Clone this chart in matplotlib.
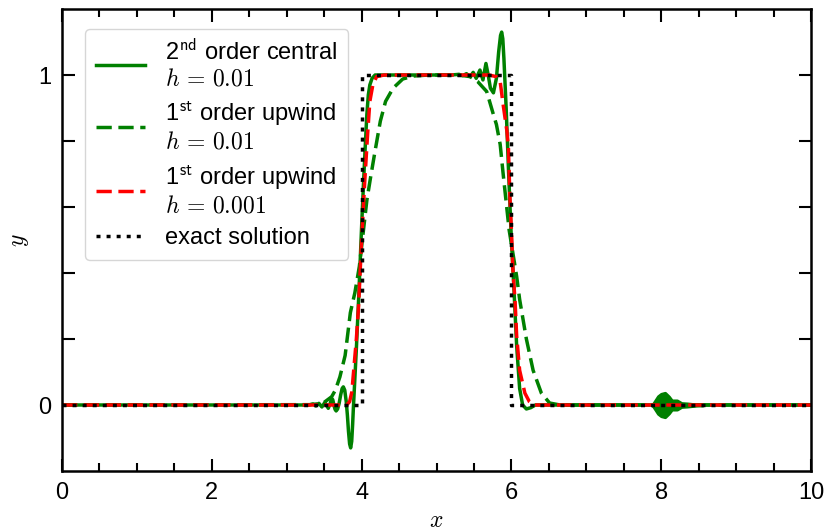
import matplotlib
matplotlib.use("Agg")
import matplotlib.pyplot as plt
from matplotlib.ticker import MultipleLocator

plt.rcParams["font.family"] = ["Liberation Sans", "DejaVu Sans"]
plt.rcParams["mathtext.fontset"] = "cm"
plt.rcParams["font.size"] = 17

# exact solution: unit pulse sitting on [4, 6]
exact_x = [0, 4, 4, 6, 6, 10]
exact_y = [0, 0, 1, 1, 0, 0]

# 2nd order central, h = 0.01 (dispersive wiggles trail each front)
central_x = [0.0, 3.3, 3.35, 3.39, 3.43, 3.47, 3.51, 3.555, 3.58, 3.6, 3.615, 3.63,
             3.645, 3.66, 3.68, 3.70, 3.72, 3.74, 3.756, 3.775, 3.795, 3.81, 3.825,
             3.84, 3.854, 3.868, 3.88, 3.89, 3.91, 3.93, 3.96, 3.98, 4.0, 4.025,
             4.05, 4.07, 4.09, 4.11, 4.14, 4.18, 5.2, 5.3, 5.35, 5.4, 5.45, 5.49,
             5.53, 5.58, 5.62, 5.66, 5.69, 5.72, 5.76, 5.8, 5.83, 5.855, 5.87,
             5.885, 5.9, 5.93, 5.96, 6.0, 6.03, 6.07, 6.11, 6.15, 6.2, 6.26, 6.32,
             6.4, 10.0]
central_y = [0.0, 0.0, 0.003, -0.003, 0.005, -0.006, 0.008, -0.01, 0.004, 0.02, 0.016,
             0.0, -0.013, -0.018, -0.012, 0.005, 0.03, 0.05, 0.055, 0.045, 0.01, -0.03,
             -0.08, -0.118, -0.13, -0.11, -0.06, -0.01, 0.08, 0.17, 0.32, 0.43, 0.54,
             0.67, 0.79, 0.88, 0.94, 0.97, 0.99, 1.0, 1.0, 1.002, 0.998, 1.004, 0.995,
             1.008, 0.99, 1.015, 0.985, 1.035, 1.0, 0.96, 0.946, 0.99, 1.07, 1.12,
             1.13, 1.11, 1.05, 0.9, 0.72, 0.5, 0.37, 0.18, 0.05, 0.0, -0.012, -0.008,
             0.0, 0.0, 0.0]

# grid-scale wave packet left behind near x = 8 (envelope of the wiggle)
packet_x = [7.88, 7.9, 7.96, 8.0, 8.05, 8.1, 8.14, 8.21, 8.27, 8.34, 8.47, 8.56]
packet_amp = [0.0, 0.005, 0.026, 0.033, 0.036, 0.025, 0.013, 0.013, 0.005, 0.004, 0.001, 0.0]

# 1st order upwind, h = 0.01
upwind_x = [0.0, 3.3, 3.4, 3.5, 3.6, 3.65, 3.71, 3.78, 3.85, 3.91, 3.97, 4.02, 4.07,
            4.12, 4.18, 4.25, 4.32, 4.42, 4.55, 4.7, 4.9, 5.3, 5.45, 5.55, 5.67,
            5.76, 5.8, 5.85, 5.89, 5.97, 6.02, 6.07, 6.11, 6.2, 6.29, 6.4, 6.51,
            6.65, 10.0]
upwind_y = [0.0, 0.001, 0.003, 0.008, 0.025, 0.045, 0.085, 0.15, 0.28, 0.34, 0.42,
            0.52, 0.62, 0.69, 0.77, 0.86, 0.92, 0.96, 0.988, 0.997, 1.0, 1.0, 0.995,
            0.98, 0.95, 0.88, 0.85, 0.79, 0.7, 0.53, 0.46, 0.39, 0.32, 0.2, 0.105,
            0.036, 0.006, 0.0, 0.0]

# 1st order upwind, h = 0.001
fine_x = [0.0, 3.8, 3.84, 3.87, 3.9, 3.93, 3.96, 4.0, 4.04, 4.08, 4.11, 4.15, 4.2,
          4.3, 5.7, 5.8, 5.85, 5.89, 5.94, 5.96, 5.98, 6.0, 6.02, 6.05, 6.07, 6.11,
          6.18, 6.24, 6.3, 10.0]
fine_y = [0.0, 0.0, 0.01, 0.04, 0.12, 0.2, 0.3, 0.5, 0.67, 0.82, 0.92, 0.97, 0.995,
          1.0, 1.0, 0.995, 0.98, 0.91, 0.83, 0.78, 0.63, 0.53, 0.41, 0.31, 0.21,
          0.105, 0.036, 0.01, 0.0, 0.0]

x_major_ticks = [0, 2, 4, 6, 8, 10]
y_ticks = [0, 0.2, 0.4, 0.6, 0.8, 1.0]
y_tick_labels = ["0", "", "", "", "", "1"]

fig = plt.figure(figsize=(8.25, 5.31), dpi=100)
ax = fig.add_axes([62 / 825, 60 / 531, 749 / 825, 462 / 531])

lw = 2.5
ax.plot(central_x, central_y, color="green", lw=lw,
        label="2$^{\\mathsf{nd}}$ order central\n$h\\,=\\,0.01$")
ax.fill_between(packet_x, [-a for a in packet_amp], packet_amp,
                color="green", lw=lw, edgecolor="green")
ax.plot(upwind_x, upwind_y, color="green", lw=lw, dashes=(4.4, 1.9),
        label="1$^{\\mathsf{st}}$ order upwind\n$h\\,=\\,0.01$")
ax.plot(fine_x, fine_y, color="red", lw=lw, dashes=(4.4, 1.9),
        label="1$^{\\mathsf{st}}$ order upwind\n$h\\,=\\,0.001$")
ax.plot(exact_x, exact_y, color="black", lw=lw, dashes=(1.15, 1.75),
        label="exact solution")

ax.set_xlim(0, 10)
ax.set_ylim(-0.2, 1.2)
ax.set_xticks(x_major_ticks)
ax.xaxis.set_minor_locator(MultipleLocator(0.5))
ax.set_yticks(y_ticks)
ax.set_yticklabels(y_tick_labels)

ax.tick_params(which="both", direction="in", top=True, right=True, width=1.5)
ax.tick_params(which="major", length=9, pad=8)
ax.tick_params(which="minor", length=5.5)
for spine in ax.spines.values():
    spine.set_linewidth(1.8)

ax.set_xlabel("$x$", labelpad=4)
ax.set_ylabel("$y$", labelpad=5)

ax.legend(loc="upper left", bbox_to_anchor=(0.0307, 0.957), borderaxespad=0,
          handlelength=2.1, handletextpad=0.85, borderpad=0.45, labelspacing=0.42,
          edgecolor="0.8", fancybox=True)

fig.savefig("out.png", dpi=100)
